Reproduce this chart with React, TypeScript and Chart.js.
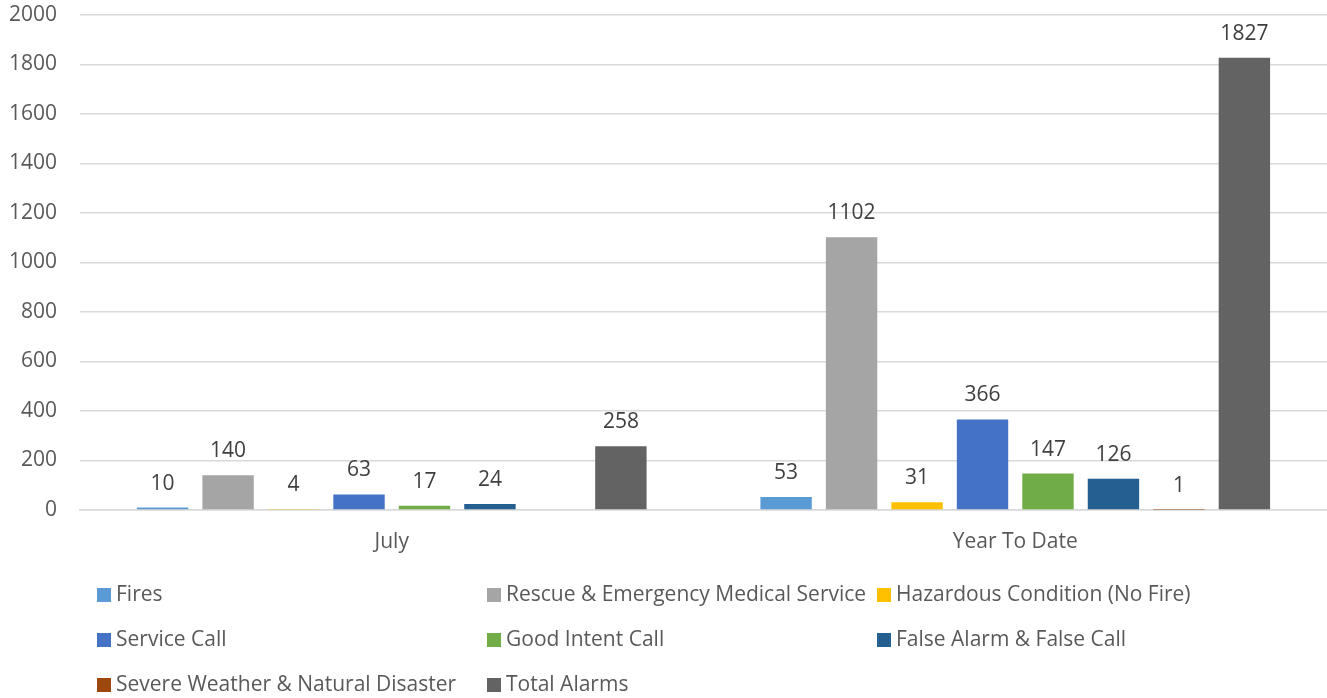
import React, { useEffect, useRef } from "react";
import { Chart, registerables } from "chart.js";

Chart.register(...registerables);

const categories = ["July", "Year To Date"];
const seriesNames = [
  "Fires",
  "Rescue & Emergency Medical Service",
  "Hazardous Condition (No Fire)",
  "Service Call",
  "Good Intent Call",
  "False Alarm & False Call",
  "Severe Weather & Natural Disaster",
  "Total Alarms",
];
const fires = [10, 53];
const rescue = [140, 1102];
const hazardous = [4, 31];
const serviceCall = [63, 366];
const goodIntent = [17, 147];
const falseAlarm = [24, 126];
const severeWeather: (number | null)[] = [null, 1];
const totalAlarms = [258, 1827];
const seriesValues = [fires, rescue, hazardous, serviceCall, goodIntent, falseAlarm, severeWeather, totalAlarms];
const seriesColors = ["#5B9BD5", "#A5A5A5", "#FFC000", "#4472C4", "#70AD47", "#255E91", "#9E480E", "#636363"];
const yTicks = [0, 200, 400, 600, 800, 1000, 1200, 1400, 1600, 1800, 2000];

const FONT = "'Open Sans', sans-serif";
const TEXT = "#595959";
const FS = 21;

const labelPlugin = {
  id: "valueLabels",
  afterDatasetsDraw(chart: any) {
    const ctx = chart.ctx;
    ctx.save();
    ctx.font = `${FS}px ${FONT}`;
    ctx.fillStyle = "#404040";
    ctx.textAlign = "center";
    ctx.textBaseline = "middle";
    chart.data.datasets.forEach((ds: any, i: number) => {
      const meta = chart.getDatasetMeta(i);
      meta.data.forEach((el: any, j: number) => {
        const v = ds.data[j];
        if (v === null || v === undefined) return;
        ctx.fillText(String(v), el.x, el.y - 24);
      });
    });
    ctx.restore();
  },
};

const legendPlugin = {
  id: "gridLegend",
  afterDraw(chart: any) {
    const ctx = chart.ctx;
    ctx.save();
    ctx.font = `${FS}px ${FONT}`;
    ctx.textBaseline = "middle";
    ctx.textAlign = "left";
    const colX = [97, 487, 877];
    const rowY = [595, 640, 685];
    seriesNames.forEach((name, i) => {
      const x = colX[i % 3];
      const y = rowY[Math.floor(i / 3)];
      ctx.fillStyle = seriesColors[i];
      ctx.fillRect(x, y - 7, 14, 14);
      ctx.fillStyle = TEXT;
      ctx.fillText(name, x + 19, y);
    });
    ctx.restore();
  },
};

export default function App() {
  const ref = useRef<HTMLCanvasElement>(null);
  useEffect(() => {
    document.body.style.margin = "0";
    const chart = new Chart(ref.current!, {
      type: "bar",
      data: {
        labels: categories,
        datasets: seriesNames.map((name, i) => ({
          label: name,
          data: seriesValues[i] as any,
          backgroundColor: seriesColors[i],
          borderWidth: 0,
          categoryPercentage: 0.84,
          barPercentage: 0.785,
        })),
      },
      options: {
        animation: false,
        responsive: false,
        maintainAspectRatio: false,
        layout: { padding: { top: 15, left: 0, right: 0, bottom: 0 } },
        plugins: { legend: { display: false }, tooltip: { enabled: false } },
        scales: {
          x: {
            grid: { display: false, drawTicks: false },
            border: { display: true, color: "#D9D9D9", width: 1.5 },
            ticks: { color: TEXT, font: { family: FONT, size: FS }, padding: 19 },
            afterFit(scale: any) {
              scale.height = 188;
              scale.paddingLeft = 0;
              scale.paddingRight = 0;
            },
          },
          y: {
            min: 0,
            max: 2000,
            afterBuildTicks(scale: any) {
              scale.ticks = yTicks.map((v) => ({ value: v }));
            },
            grid: { color: "#D9D9D9", lineWidth: 1.5, drawTicks: false },
            border: { display: false },
            ticks: {
              color: TEXT,
              font: { family: FONT, size: FS },
              padding: 23,
              callback: (v: any) => String(v),
            },
            afterFit(scale: any) {
              scale.width = 80;
              scale.paddingTop = 0;
              scale.paddingBottom = 0;
            },
          },
        },
      },
      plugins: [labelPlugin, legendPlugin],
    });
    return () => chart.destroy();
  }, []);
  return <canvas ref={ref} width={1327} height={698} style={{ display: "block" }} />;
}
